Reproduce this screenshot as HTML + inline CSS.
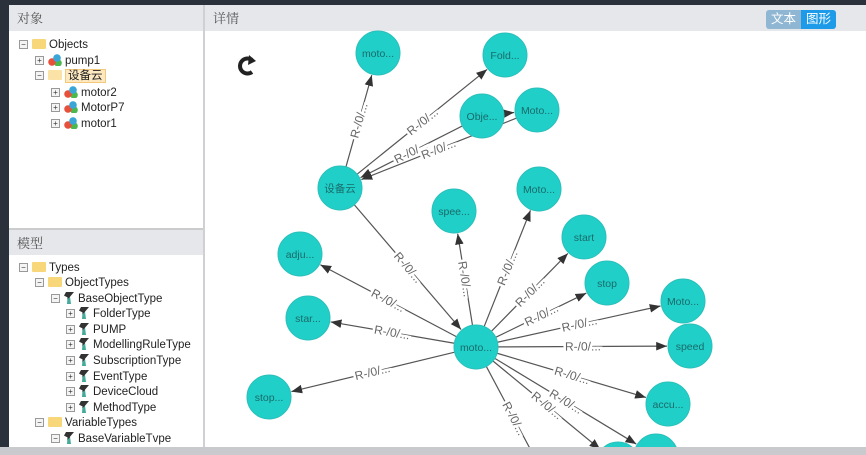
<!DOCTYPE html>
<html><head><meta charset="utf-8"><style>
html,body{margin:0;width:866px;height:455px;overflow:hidden;background:#fff;font-family:"Liberation Sans","Noto Sans CJK SC",sans-serif;position:relative}
.abs{position:absolute}
.hdr{background:#e6e7eb;color:#555;font-size:13px;line-height:26px;padding-left:8px;box-sizing:border-box;font-family:"Noto Serif CJK SC","Noto Sans CJK SC",serif}
.tree{font-size:11.5px;color:#222;}
.tree div{position:absolute;height:15px;line-height:15px;white-space:nowrap}
.pm{display:inline-block;width:7px;height:7px;border:1px solid #999;font-size:8px;line-height:7px;text-align:center;color:#333;margin-right:4px;vertical-align:1px;background:#f4f4f4}
.fd{display:inline-block;width:14px;height:10px;background:#f7d77a;border-radius:1px;margin-right:3px;vertical-align:-1px}
.ob{display:inline-block;width:14px;height:12px;margin-right:3px;vertical-align:-2px;background:radial-gradient(circle at 9px 4px,#3aa6d8 3.5px,transparent 4px),radial-gradient(circle at 4px 8px,#e9503c 3.5px,transparent 4px),radial-gradient(circle at 10px 9px,#4cb84c 3.5px,transparent 4px)}
.ty{display:inline-block;width:10px;height:12px;margin-right:4px;vertical-align:-2px;background:linear-gradient(135deg,#333 50%,#4a9 50%);clip-path:polygon(20% 0,100% 0,60% 40%,70% 100%,30% 100%,35% 45%,0 30%)}
</style></head><body>
<div class="abs" style="left:0;top:0;width:866px;height:5px;background:#2a313b"></div>
<div class="abs" style="left:0;top:0;width:9px;height:455px;background:#2a313b"></div>
<div class="abs" style="left:203px;top:5px;width:2px;height:442px;background:#d0d0d4"></div>
<div class="abs hdr" style="left:9px;top:5px;width:194px;height:26px">对象</div>
<div class="abs hdr" style="left:9px;top:230px;width:194px;height:25px">模型</div>
<div class="abs" style="left:9px;top:228px;width:194px;height:2px;background:#ccc"></div>
<div class="abs hdr" style="left:205px;top:5px;width:661px;height:26px">详情</div>
<div class="abs" style="left:766px;top:10px;width:70px;height:19px;border-radius:3px;overflow:hidden;font-size:12.5px;line-height:19px;color:#fff;text-align:center">
<span style="float:left;width:35px;background:#8fb6d3">文本</span><span style="float:left;width:35px;background:#1e9be8">图形</span></div>
<div class="tree">
<div style="left:19px;top:38px"><span class="pm">−</span><span class="fd"></span>Objects</div>
<div style="left:35px;top:54px"><span class="pm">+</span><span class="ob"></span>pump1</div>
<div style="left:35px;top:69px"><span class="pm">−</span><span class="fd" style="background:#fbe3a8"></span><span style="background:#fde8c0;border:1px solid #f2c87a;padding:0 2px">设备云</span></div>
<div style="left:51px;top:86px"><span class="pm">+</span><span class="ob"></span>motor2</div>
<div style="left:51px;top:101px"><span class="pm">+</span><span class="ob"></span>MotorP7</div>
<div style="left:51px;top:117px"><span class="pm">+</span><span class="ob"></span>motor1</div>
<div style="left:19px;top:261px"><span class="pm">−</span><span class="fd"></span>Types</div>
<div style="left:35px;top:276px"><span class="pm">−</span><span class="fd"></span>ObjectTypes</div>
<div style="left:51px;top:292px"><span class="pm">−</span><span class="ty"></span>BaseObjectType</div>
<div style="left:66px;top:307px"><span class="pm">+</span><span class="ty"></span>FolderType</div>
<div style="left:66px;top:323px"><span class="pm">+</span><span class="ty"></span>PUMP</div>
<div style="left:66px;top:338px"><span class="pm">+</span><span class="ty"></span>ModellingRuleType</div>
<div style="left:66px;top:354px"><span class="pm">+</span><span class="ty"></span>SubscriptionType</div>
<div style="left:66px;top:370px"><span class="pm">+</span><span class="ty"></span>EventType</div>
<div style="left:66px;top:385px"><span class="pm">+</span><span class="ty"></span>DeviceCloud</div>
<div style="left:66px;top:401px"><span class="pm">+</span><span class="ty"></span>MethodType</div>
<div style="left:35px;top:416px"><span class="pm">−</span><span class="fd"></span>VariableTypes</div>
<div style="left:51px;top:432px"><span class="pm">−</span><span class="ty"></span>BaseVariableTvpe</div>
</div>
<svg class="abs" style="left:0;top:0;overflow:hidden" width="866" height="447" id="g">
<defs><marker id="a" viewBox="0 0 10 10" refX="10" refY="5" markerWidth="9" markerHeight="9" orient="auto"><path d="M0,1 L10,5 L0,9z" fill="#333"/></marker></defs>
<path d="M252,60 A7.5,7.5 0 1 0 252,72" fill="none" stroke="#222" stroke-width="4"/>
<path d="M249,55 L256,61 L248,65z" fill="#222"/>
</svg>
<div class="abs" style="left:0;top:447px;width:866px;height:8px;background:#c9cacd"></div>
<script>
var N={m:[378,53,"moto..."],f:[505,55,"Fold..."],o:[482,116,"Obje..."],M1:[537,110,"Moto..."],s:[340,188,"设备云"],M2:[539,189,"Moto..."],sp:[454,211,"spee..."],st:[584,237,"start"],ad:[300,254,"adju..."],sto:[607,283,"stop"],M3:[683,301,"Moto..."],sr:[308,318,"star..."],c:[476,347,"moto..."],spd:[690,346,"speed"],stp:[269,397,"stop..."],ac:[668,404,"accu..."],b1:[618,464,""],b2:[656,456,""],b3:[552,490,""]};
var E=[["s","m"],["s","f"],["o","s"],["M1","s"],["o","M1"],["s","c"],["c","M2"],["c","sp"],["c","st"],["c","ad"],["c","sto"],["c","M3"],["c","sr"],["c","spd"],["c","stp"],["c","ac"],["c","b1"],["c","b2"],["c","b3"]];
var R=22,g=document.getElementById('g'),h='';
E.forEach(function(e){var a=N[e[0]],b=N[e[1]],dx=b[0]-a[0],dy=b[1]-a[1],L=Math.hypot(dx,dy),ux=dx/L,uy=dy/L;
var x1=a[0]+ux*R,y1=a[1]+uy*R,x2=b[0]-ux*(R+1),y2=b[1]-uy*(R+1);
h+='<line x1="'+x1+'" y1="'+y1+'" x2="'+x2+'" y2="'+y2+'" stroke="#555" stroke-width="1.2" marker-end="url(#a)"/>';
if(e[0]=="o"&&e[1]=="M1")return;
var mx=(a[0]+b[0])/2,my=(a[1]+b[1])/2,ang=Math.atan2(dy,dx)*180/Math.PI;if(ang>90)ang-=180;if(ang<-90)ang+=180;
h+='<text x="'+mx+'" y="'+(my+4)+'" transform="rotate('+ang+' '+mx+' '+my+')" text-anchor="middle" font-size="12" fill="#666" stroke="#fff" stroke-width="5" paint-order="stroke">R-/0/...</text>';});
for(var k in N){var n=N[k];h+='<circle cx="'+n[0]+'" cy="'+n[1]+'" r="'+R+'" fill="#1fcfc8" stroke="#2bc0bb"/><text x="'+n[0]+'" y="'+(n[1]+4)+'" text-anchor="middle" font-size="10.5" fill="#1b6b6a">'+n[2]+'</text>';}
g.insertAdjacentHTML('beforeend',h);
</script>
</body></html>
